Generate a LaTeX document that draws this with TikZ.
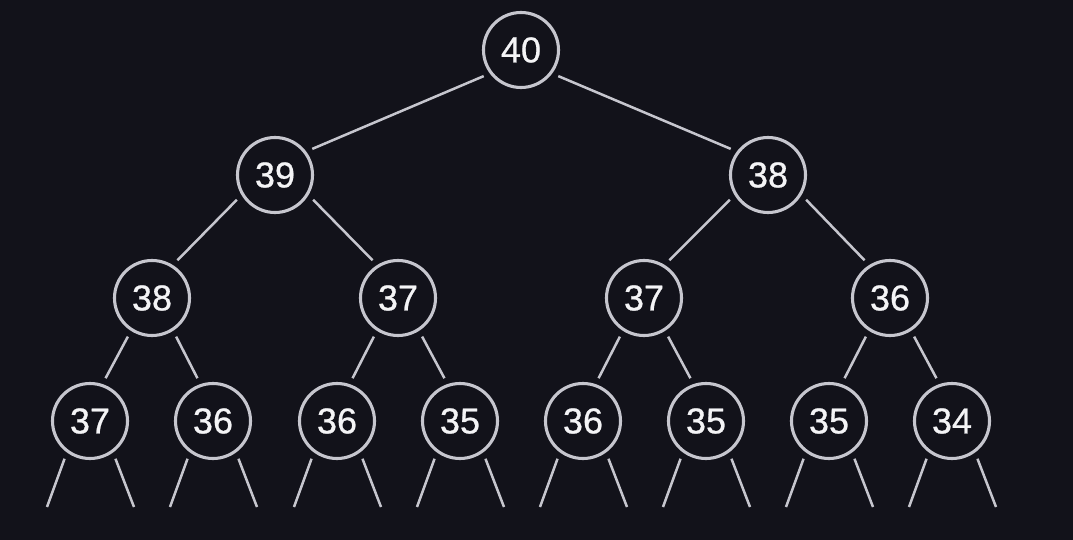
\documentclass[tikz,border=0pt]{standalone}
\usepackage{fontspec}
\setmainfont{Liberation Sans}
\newfontfamily\heapfont{Liberation Sans}[RawFeature={embolden=0.7}]
\usetikzlibrary{calc}

\definecolor{bgdark}{HTML}{12121A}
\definecolor{ringgray}{HTML}{C6C6CE}
\definecolor{digitwhite}{HTML}{F4F4F6}

\tikzset{
  heapnode/.style={circle, draw=ringgray, line width=3.1pt, fill=bgdark,
    minimum size=75pt, inner sep=0pt, outer sep=8pt,
    text=digitwhite, font=\heapfont\fontsize{36}{36}\selectfont},
  heapedge/.style={draw=ringgray, line width=2.5pt}
}

\begin{document}
\begin{tikzpicture}[x=1pt, y=-1pt]
  \fill[bgdark] (0,0) rectangle (1073,540);
  \useasboundingbox (0,0) rectangle (1073,540);

  % level 0 and 1
  \node[heapnode] (r) at (521,50) {40};
  \node[heapnode] (a) at (275,175) {39};
  \node[heapnode] (b) at (768,175) {38};

  % level 2
  \node[heapnode] (aa) at (152,298) {38};
  \node[heapnode] (ab) at (398,298) {37};
  \node[heapnode] (ba) at (644,298) {37};
  \node[heapnode] (bb) at (890,298) {36};

  % level 3
  \node[heapnode] (aaa) at (90,421) {37};
  \node[heapnode] (aab) at (213,421) {36};
  \node[heapnode] (aba) at (337,421) {36};
  \node[heapnode] (abb) at (460,421) {35};
  \node[heapnode] (baa) at (583,421) {36};
  \node[heapnode] (bab) at (706,421) {35};
  \node[heapnode] (bba) at (829,421) {35};
  \node[heapnode] (bbb) at (952,421) {34};

  \draw[heapedge] (r.215) -- (a.35);
  \draw[heapedge] (r.325) -- (b.145);
  \draw[heapedge] (a.213) -- (aa.56);
  \draw[heapedge] (a.327) -- (ab.124);
  \draw[heapedge] (b.213) -- (ba.56);
  \draw[heapedge] (b.327) -- (bb.124);
  \draw[heapedge] (aa.238) -- (aaa.70);
  \draw[heapedge] (aa.302) -- (aab.110);
  \draw[heapedge] (ab.238) -- (aba.70);
  \draw[heapedge] (ab.302) -- (abb.110);
  \draw[heapedge] (ba.238) -- (baa.70);
  \draw[heapedge] (ba.302) -- (bab.110);
  \draw[heapedge] (bb.238) -- (bba.70);
  \draw[heapedge] (bb.302) -- (bbb.110);

  % loose ends below the last level
  \coordinate (aaa-l) at ($(aaa)+(-43,86)$);
  \coordinate (aaa-r) at ($(aaa)+(44,86)$);
  \coordinate (aab-l) at ($(aab)+(-43,86)$);
  \coordinate (aab-r) at ($(aab)+(44,86)$);
  \coordinate (aba-l) at ($(aba)+(-43,86)$);
  \coordinate (aba-r) at ($(aba)+(44,86)$);
  \coordinate (abb-l) at ($(abb)+(-43,86)$);
  \coordinate (abb-r) at ($(abb)+(44,86)$);
  \coordinate (baa-l) at ($(baa)+(-43,86)$);
  \coordinate (baa-r) at ($(baa)+(44,86)$);
  \coordinate (bab-l) at ($(bab)+(-43,86)$);
  \coordinate (bab-r) at ($(bab)+(44,86)$);
  \coordinate (bba-l) at ($(bba)+(-43,86)$);
  \coordinate (bba-r) at ($(bba)+(44,86)$);
  \coordinate (bbb-l) at ($(bbb)+(-43,86)$);
  \coordinate (bbb-r) at ($(bbb)+(44,86)$);

  \draw[heapedge] (aaa.236) -- (aaa-l);
  \draw[heapedge] (aaa.304) -- (aaa-r);
  \draw[heapedge] (aab.236) -- (aab-l);
  \draw[heapedge] (aab.304) -- (aab-r);
  \draw[heapedge] (aba.236) -- (aba-l);
  \draw[heapedge] (aba.304) -- (aba-r);
  \draw[heapedge] (abb.236) -- (abb-l);
  \draw[heapedge] (abb.304) -- (abb-r);
  \draw[heapedge] (baa.236) -- (baa-l);
  \draw[heapedge] (baa.304) -- (baa-r);
  \draw[heapedge] (bab.236) -- (bab-l);
  \draw[heapedge] (bab.304) -- (bab-r);
  \draw[heapedge] (bba.236) -- (bba-l);
  \draw[heapedge] (bba.304) -- (bba-r);
  \draw[heapedge] (bbb.236) -- (bbb-l);
  \draw[heapedge] (bbb.304) -- (bbb-r);
\end{tikzpicture}
\end{document}
